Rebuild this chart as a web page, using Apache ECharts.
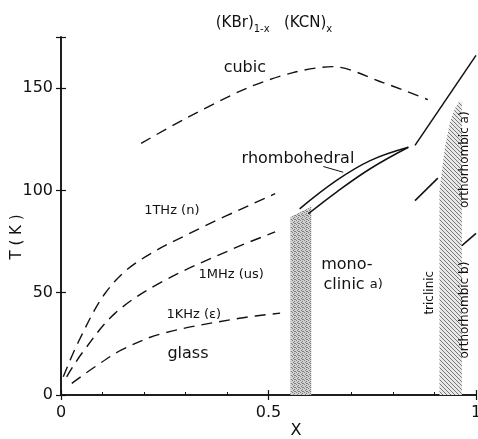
<!DOCTYPE html>
<html>
<head>
<meta charset="utf-8">
<script src="https://cdn.jsdelivr.net/npm/echarts@6/dist/echarts.min.js"></script>
<style>
html, body { margin: 0; padding: 0; background: #fff; }
#chart { width: 478px; height: 439px; }
</style>
</head>
<body>
<div id="chart"></div>
<script>
// phase boundaries (x = KCN fraction, T in K)
var cubicX = [0.193, 0.304, 0.448, 0.559, 0.655, 0.776, 0.884];
var cubicT = [123, 135.6, 150, 157.6, 160.5, 152.7, 144.4];

var rhombUpX = [0.575, 0.664, 0.745, 0.837];
var rhombUpT = [91, 104.9, 114.6, 121.1];
var rhombLowX = [0.596, 0.664, 0.745, 0.837];
var rhombLowT = [88.6, 99.2, 110.6, 121.1];

var orthoX = [0.853, 1.0];
var orthoT = [122, 166];
var triclX = [0.853, 0.908];
var triclT = [95, 106];
var orthoBX = [0.966, 1.0];
var orthoBT = [73, 79];
var leaderX = [0.632, 0.68];
var leaderT = [111.7, 108.9];

// glass freezing curves
var thzX = [0.0055, 0.042, 0.106, 0.178, 0.32, 0.516];
var thzT = [8.9, 26, 49.6, 64.2, 80, 98.4];
var mhzX = [0.0137, 0.05, 0.13, 0.243, 0.415, 0.516];
var mhzT = [8.9, 20.3, 39.9, 55.3, 71.5, 79.7];
var khzX = [0.026, 0.082, 0.146, 0.243, 0.43, 0.528];
var khzT = [5.7, 13.8, 22, 30, 37.5, 40];

// two-phase bands
var bandMonoX = [0.553, 0.603];
var bandMonoT = [87, 92];
var bandOrthoX = [0.912, 0.925, 0.937, 0.949, 0.961, 0.966];
var bandOrthoT = [100, 121, 133, 140, 144, 143];

// axis ticks
var xTicks = [0, 0.5, 1];
var yTicks = [0, 50, 100, 150];

function zip(xs, ts) {
  return xs.map(function (x, i) { return [x, ts[i]]; });
}

// fill patterns
function stipple() {
  var c = document.createElement('canvas');
  c.width = 4; c.height = 4;
  var g = c.getContext('2d');
  g.fillStyle = '#d0d0d0';
  g.fillRect(0, 0, 4, 4);
  g.fillStyle = '#808080';
  [[0, 0], [2, 1], [1, 2], [3, 3], [2, 3]].forEach(function (p) { g.fillRect(p[0], p[1], 1, 1); });
  return c;
}
function hatch() {
  var c = document.createElement('canvas');
  c.width = 4; c.height = 4;
  var g = c.getContext('2d');
  g.fillStyle = '#e8e8e8';
  g.fillRect(0, 0, 4, 4);
  g.fillStyle = '#777';
  for (var i = 0; i < 4; i++) g.fillRect(i, i, 1, 1);
  return c;
}

var FONT = 'DejaVu Sans';

function solid(data) {
  return { type: 'line', data: data, symbol: 'none', silent: true,
    lineStyle: { color: '#111', width: 1.5 }, z: 5 };
}
function dashed(data, smooth) {
  return { type: 'line', data: data, symbol: 'none', silent: true, smooth: smooth,
    lineStyle: { color: '#111', width: 1.4, type: [11, 7] }, z: 5 };
}
function band(data, img) {
  return { type: 'line', data: data, symbol: 'none', silent: true,
    lineStyle: { width: 0 }, areaStyle: { color: { image: img, repeat: 'repeat' }, opacity: 1 }, z: 2 };
}

// region labels, placed in data coordinates
var labels = [
  { v: [0.443, 160], t: 'cubic', s: 16 },
  { v: [0.571, 115.6], t: 'rhombohedral', s: 16 },
  { v: [0.267, 90], t: '1THz (n)', s: 13 },
  { v: [0.41, 59], t: '1MHz (us)', s: 13 },
  { v: [0.32, 39.5], t: '1KHz (ε)', s: 13 },
  { v: [0.306, 20], t: 'glass', s: 16 },
  { v: [0.689, 63.4], t: 'mono-', s: 16 },
  { v: [0.704, 54], t: '{a|clinic} {b|a)}', s: 16 },
  { v: [0.889, 50], t: 'triclinic', s: 12, r: 90 },
  { v: [0.973, 115], t: 'orthorhombic a)', s: 12, r: 90 },
  { v: [0.973, 41.5], t: 'orthorhombic b)', s: 12, r: 90 }
];

var chart = echarts.init(document.getElementById('chart'));
var axisCommon = {
  axisLine: { show: true, lineStyle: { color: '#111', width: 1.5 } },
  axisTick: { show: true, inside: true, length: 5, lineStyle: { color: '#111', width: 1.2 } },
  splitLine: { show: false }
};

var option = {
  animation: false,
  backgroundColor: '#fff',
  grid: { left: 61, right: 2, top: 37, bottom: 44, containLabel: false, outerBoundsMode: 'none' },
  xAxis: [
    Object.assign({}, axisCommon, {
      type: 'value', min: 0, max: 1, interval: 0.5, position: 'bottom',
      minorTick: { show: true, splitNumber: 5, length: 3, lineStyle: { color: '#111' } },
      axisLabel: { color: '#111', fontFamily: FONT, fontSize: 16, margin: 10,
        formatter: function (v) { return xTicks.indexOf(v) >= 0 ? String(v) : ''; } }
    }),
    Object.assign({}, axisCommon, {
      type: 'value', min: 0, max: 1, interval: 0.5, position: 'top',
      axisLabel: { show: false }
    })
  ],
  yAxis: [
    Object.assign({}, axisCommon, {
      type: 'value', min: 0, max: 175, interval: 50, position: 'left',
      axisLabel: { color: '#111', fontFamily: FONT, fontSize: 16, margin: 8,
        formatter: function (v) { return yTicks.indexOf(v) >= 0 ? String(v) : ''; } }
    }),
    Object.assign({}, axisCommon, {
      type: 'value', min: 0, max: 175, interval: 50, position: 'right',
      axisLabel: { show: false }
    })
  ],
  graphic: [
    { type: 'text', x: 274, y: 20, style: {
        text: '{m|(KBr)}{s|1-x}{m|   (KCN)}{s|x}', align: 'center', verticalAlign: 'middle',
        rich: {
          m: { fontFamily: FONT, fontSize: 15, fill: '#111', lineHeight: 22, verticalAlign: 'bottom' },
          s: { fontFamily: FONT, fontSize: 10, fill: '#111', verticalAlign: 'bottom', padding: [0, 0, -3, 0] }
        } } },
    { type: 'text', x: 296, y: 431, style: { text: 'X', font: '16px "' + FONT + '"', fill: '#111',
        align: 'center', verticalAlign: 'middle' } },
    { type: 'text', x: 17, y: 237, rotation: Math.PI / 2, style: { text: 'T ( K )', font: '15px "' + FONT + '"',
        fill: '#111', align: 'center', verticalAlign: 'middle' } }
  ],
  series: [
    band(zip(bandMonoX, bandMonoT), stipple()),
    band(zip(bandOrthoX, bandOrthoT), hatch()),
    dashed(zip(cubicX, cubicT), 0.3),
    dashed(zip(thzX, thzT), 0.35),
    dashed(zip(mhzX, mhzT), 0.35),
    dashed(zip(khzX, khzT), 0.35),
    Object.assign(solid(zip(rhombUpX, rhombUpT)), { smooth: 0.4 }),
    Object.assign(solid(zip(rhombLowX, rhombLowT)), { smooth: 0.4 }),
    solid(zip(orthoX, orthoT)),
    solid(zip(triclX, triclT)),
    solid(zip(orthoBX, orthoBT)),
    Object.assign(solid(zip(leaderX, leaderT)), { lineStyle: { color: '#111', width: 1 } }),
    {
      type: 'scatter', symbolSize: 0, silent: true, z: 10,
      itemStyle: { opacity: 1 },
      data: labels.map(function (l) {
        return { value: l.v, label: {
          show: true, position: 'inside', formatter: l.t, rotate: l.r || 0, opacity: 1,
          fontFamily: FONT, fontSize: l.s, color: '#111',
          rich: { a: { fontFamily: FONT, fontSize: 16, color: '#111' },
                  b: { fontFamily: FONT, fontSize: 13, color: '#111' } }
        } };
      })
    }
  ]
};
chart.setOption(option);
</script>
</body>
</html>
